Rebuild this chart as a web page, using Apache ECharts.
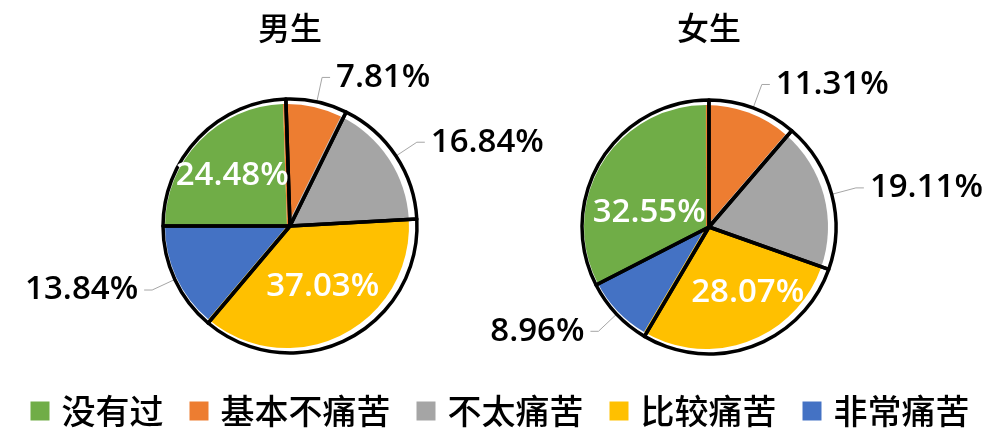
<!DOCTYPE html>
<html><head><meta charset="utf-8">
<script src="https://cdn.jsdelivr.net/npm/echarts@6/dist/echarts.min.js"></script>
<style>html,body{margin:0;padding:0;background:#fff}#c{width:1000px;height:442px}</style>
</head><body><div id="c"></div>
<script>
const categories = ['没有过', '基本不痛苦', '不太痛苦', '比较痛苦', '非常痛苦'];
const maleValues = [24.48, 7.81, 16.84, 37.03, 13.84];
const femaleValues = [32.55, 11.31, 19.11, 28.07, 8.96];
const pieTitles = ['男生', '女生'];
const colors = ['#70ad47', '#ed7d31', '#a5a5a5', '#ffc000', '#4472c4'];

const numFont = '"Open Sans", "Noto Sans", "Noto Sans CJK SC", sans-serif';
const cjkFont = '"Noto Sans CJK SC", sans-serif';

// insideOffsets: label nudges for slices whose label sits inside the pie
function pieSeries(values, center, startAngle, insideOffsets) {
  const R = 127;
  const data = values.map((v, i) => ({ name: categories[i], value: v }));
  const common = {
    type: 'pie', startAngle: startAngle, clockwise: true, silent: true,
    animation: false, avoidLabelOverlap: false, emphasis: { disabled: true }
  };
  return [
    Object.assign({}, common, {
      z: 2, center: [center[0] - 3, center[1]], radius: 122,
      data: data.map((d, i) => ({ name: d.name, value: d.value, itemStyle: { color: colors[i], borderWidth: 0 } })),
      label: { show: false }, labelLine: { show: false }
    }),
    Object.assign({}, common, {
      z: 1, center: center, radius: R,
      data: data.map(d => ({ name: d.name, value: d.value, itemStyle: { color: '#ffffff', borderWidth: 0 } })),
      label: { show: false }, labelLine: { show: false }
    }),
    Object.assign({}, common, {
      z: 3, center: center, radius: R,
      data: data.map((d, i) => {
        const o = { name: d.name, value: d.value, itemStyle: { color: 'rgba(0,0,0,0)', borderColor: '#000', borderWidth: 3.5 } };
        if (insideOffsets[i]) o.label = { position: 'inside', color: '#fff', padding: 0, offset: insideOffsets[i] };
        return o;
      }),
      label: {
        show: true, position: 'outside',
        formatter: p => p.value.toFixed(2) + '%',
        fontSize: 33, color: '#000', fontFamily: numFont, fontWeight: 600,
        padding: [0, 0, 22, 0], distanceToLabelLine: 6,
        textBorderWidth: 0
      },
      labelLine: { show: true, length: 25, length2: 8, smooth: false, lineStyle: { color: '#a6a6a6', width: 1 } }
    })
  ];
}

const chart = echarts.init(document.getElementById('c'));
chart.setOption({
  backgroundColor: '#ffffff',
  title: [
    { text: pieTitles[0], left: 290, top: 12, textAlign: 'center', padding: 0,
      textStyle: { fontSize: 32, fontWeight: 500, color: '#000', fontFamily: cjkFont } },
    { text: pieTitles[1], left: 709, top: 12, textAlign: 'center', padding: 0,
      textStyle: { fontSize: 32, fontWeight: 500, color: '#000', fontFamily: cjkFont } }
  ],
  legend: {
    data: categories, top: 394, left: 'center', icon: 'rect',
    itemWidth: 19, itemHeight: 19, itemGap: 26, padding: 0, selectedMode: false,
    textStyle: { fontSize: 34, fontWeight: 500, color: '#000', fontFamily: cjkFont, padding: [0, 0, 0, 7] }
  },
  series: [].concat(
    pieSeries(maleValues, [290, 226], 180, [[-10, -4], null, null, [3, 1], null]),
    pieSeries(femaleValues, [709, 227], 207.2, [[-3, 20], null, null, [16, 3], null])
  )
});
</script>
</body></html>
